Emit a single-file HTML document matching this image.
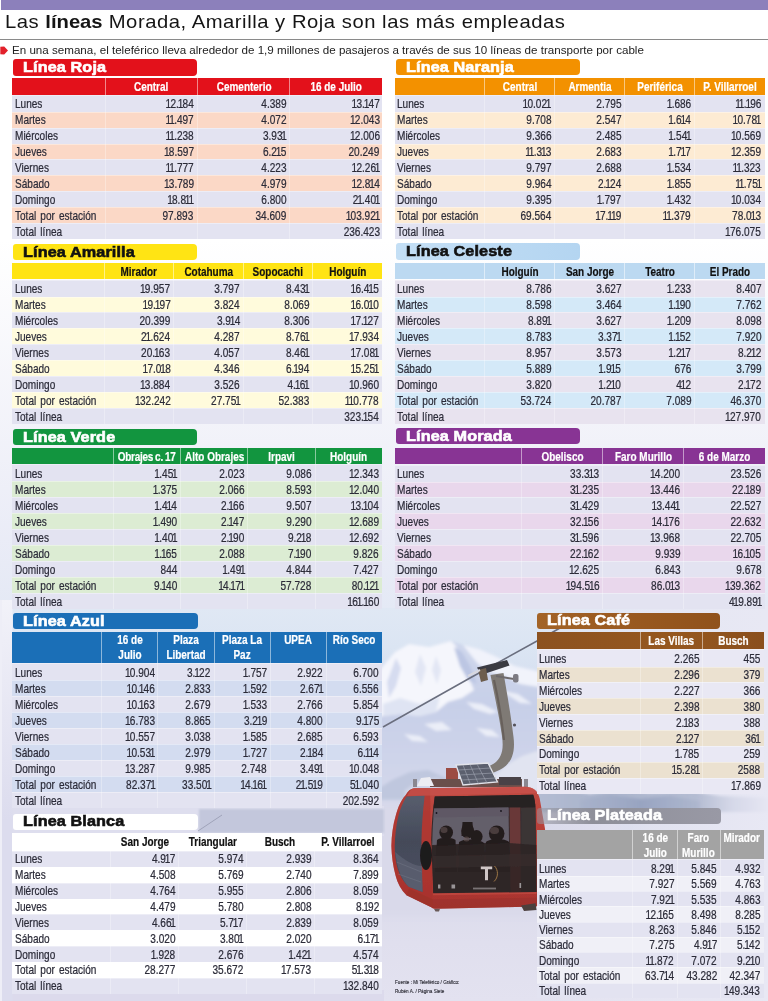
<!DOCTYPE html>
<html lang="es"><head><meta charset="utf-8"><title>Teleférico</title>
<style>
html,body{margin:0;padding:0}
body{width:768px;height:1001px;position:relative;overflow:hidden;background:#fff;font-family:"Liberation Sans",sans-serif;color:#2a2a33}
.abs{position:absolute}
#bar{left:1px;top:0;width:767px;height:10px;background:#8c80bb}
#title{left:5.4px;top:10.2px;font-size:18.4px;line-height:24px;white-space:nowrap;color:#151515;transform-origin:0 0;transform:scaleX(1.1);letter-spacing:0.48px}
#title b{font-weight:bold;letter-spacing:-0.02px}
#rule{left:0;top:38.5px;width:768px;height:1px;background:#8a8a8a}
#sub{left:11.7px;top:44.3px;font-size:10.9px;line-height:13px;white-space:nowrap;color:#222;transform-origin:0 0;transform:scaleX(1.065)}
#photo{left:0;top:240px;width:768px;height:761px}
.tt{position:absolute;border-radius:3px 4px 4px 3px;box-sizing:border-box}
.tt span{position:absolute;left:10.2px;top:-1.4px;font-weight:bold;font-size:15.1px;line-height:17px;white-space:nowrap;transform-origin:0 50%;transform:scaleX(1.075);letter-spacing:0.1px;-webkit-text-stroke:0.6px currentColor}
.hd{position:absolute}
.tt.café{background-image:linear-gradient(90deg,#a36427 0%,#9a5a20 45%,#90521c 100%)}
.hd.café{background-image:linear-gradient(90deg,#8c521f 0%,#96581f 60%,#8a4f1d 100%)}
.tt.plateada{background-image:linear-gradient(90deg,rgba(150,150,162,.5) 0%,#8e8f99 30%,#9999a5 100%);background-color:transparent !important}
.tt.celeste{background-image:linear-gradient(90deg,#c4dff5 0%,#b4d5f1 100%)}
.hc{position:absolute;top:0;height:100%;text-align:center}
.hc span{display:block;margin:0 -15px;font-weight:bold;font-size:12px;line-height:16.3px;white-space:nowrap;transform:scaleX(0.83);position:relative;top:0.5px;-webkit-text-stroke:0.2px currentColor}
.hc.two span{line-height:14.7px;top:1.3px}
.hc u{text-decoration:none;word-spacing:-0.6px;letter-spacing:-0.3px}
.vd{position:absolute;top:0;width:1px;height:100%;background:rgba(255,255,255,.5)}
.vd.b{background:rgba(255,255,255,.3)}
.rw{position:absolute;box-shadow:inset 0 1px 0 rgba(255,255,255,.38)}
.rw span{position:absolute;top:0;margin-top:0.5px;font-size:12.2px;line-height:16.2px;white-space:nowrap;color:#2b2b38;-webkit-text-stroke:0.22px #2b2b38}
.lb{left:2.5px;transform-origin:0 50%;transform:scaleX(0.825);word-spacing:1.6px}
.nm{transform-origin:100% 50%;transform:scaleX(0.826)}
.nm i{font-style:normal;margin:0 -0.9px 0 -1.4px}
#src{left:394.8px;top:978.2px;font-size:6.2px;line-height:8.9px;color:#2a2a33;white-space:nowrap;transform-origin:0 0;transform:scaleX(0.75);-webkit-text-stroke:0.15px #2a2a33}
</style></head>
<body>
<div id="bar" class="abs"></div>
<div id="title" class="abs">Las <b>líneas</b> Morada, Amarilla y Roja son las más empleadas</div>
<div id="rule" class="abs"></div>
<svg class="abs" style="left:0;top:45.5px" width="9" height="9" viewBox="0 0 9 9"><path d="M0.3 0.8 L4.2 0.6 L8 4.4 L4.2 8.4 L0.3 8.2 Z" fill="#e2202a"/></svg>
<div id="sub" class="abs">En una semana, el teleférico lleva alrededor de 1,9 millones de pasajeros a través de sus 10 líneas de transporte por cable</div>
<div id="photo" class="abs"><svg width="768" height="761" viewBox="0 240 768 761">
<defs>
<linearGradient id="fadeT" x1="0" y1="240" x2="0" y2="610" gradientUnits="userSpaceOnUse">
<stop offset="0" stop-color="#eaebf6" stop-opacity="0"/><stop offset="0.5" stop-color="#eaebf6" stop-opacity="0.6"/><stop offset="0.8" stop-color="#e8eaf6" stop-opacity="0.9"/><stop offset="1" stop-color="#e4e9f5" stop-opacity="1"/>
</linearGradient>
<linearGradient id="sky" x1="0" y1="608" x2="0" y2="1001" gradientUnits="userSpaceOnUse">
<stop offset="0" stop-color="#e0e8f4"/><stop offset="0.1" stop-color="#dbe5f3"/><stop offset="0.3" stop-color="#d0d8ec"/><stop offset="0.5" stop-color="#ccd2e8"/><stop offset="0.72" stop-color="#dbdbeb"/><stop offset="0.85" stop-color="#e0dfee"/><stop offset="1" stop-color="#e3e2f0"/>
</linearGradient>
<linearGradient id="fadeR" x1="537" y1="0" x2="768" y2="0" gradientUnits="userSpaceOnUse">
<stop offset="0" stop-color="#e7e7f3" stop-opacity="0"/><stop offset="0.5" stop-color="#e7e7f3" stop-opacity="0.75"/><stop offset="1" stop-color="#e8e8f4" stop-opacity="1"/>
</linearGradient>
<linearGradient id="bandg" x1="530" y1="0" x2="768" y2="0" gradientUnits="userSpaceOnUse"><stop offset="0" stop-color="#b4bdd3"/><stop offset="0.3" stop-color="#a9b3cb"/><stop offset="0.7" stop-color="#b4bcd2"/><stop offset="0.85" stop-color="#d5d8e8"/><stop offset="1" stop-color="#e6e6f3"/></linearGradient>
<linearGradient id="bandg2" x1="580" y1="0" x2="700" y2="0" gradientUnits="userSpaceOnUse"><stop offset="0" stop-color="#a0abc6" stop-opacity="0.3"/><stop offset="0.5" stop-color="#98a4c1"/><stop offset="1" stop-color="#a0abc6" stop-opacity="0.3"/></linearGradient>
<linearGradient id="leftm" x1="0" y1="600" x2="0" y2="820" gradientUnits="userSpaceOnUse">
<stop offset="0" stop-color="#f2f2f9"/><stop offset="1" stop-color="#dcdcee"/>
</linearGradient>
<filter id="b1" x="-10%" y="-10%" width="120%" height="120%"><feGaussianBlur stdDeviation="1"/></filter>
<filter id="b2" x="-10%" y="-10%" width="120%" height="120%"><feGaussianBlur stdDeviation="1.8"/></filter>
<filter id="b4" x="-20%" y="-20%" width="140%" height="140%"><feGaussianBlur stdDeviation="5"/></filter>
<filter id="b07" x="-10%" y="-10%" width="120%" height="120%"><feGaussianBlur stdDeviation="0.7"/></filter>
<filter id="b05" x="-10%" y="-10%" width="120%" height="120%"><feGaussianBlur stdDeviation="0.55"/></filter>
<linearGradient id="redg" x1="0" y1="786" x2="0" y2="910" gradientUnits="userSpaceOnUse">
<stop offset="0" stop-color="#c04a42"/><stop offset="0.5" stop-color="#b53c35"/><stop offset="1" stop-color="#a8342e"/>
</linearGradient>
<linearGradient id="wing" x1="0" y1="795" x2="0" y2="895" gradientUnits="userSpaceOnUse">
<stop offset="0" stop-color="#4d3c3e"/><stop offset="0.35" stop-color="#3b3133"/><stop offset="1" stop-color="#2d2628"/>
</linearGradient>
<linearGradient id="sideg" x1="0" y1="800" x2="0" y2="892" gradientUnits="userSpaceOnUse">
<stop offset="0" stop-color="#565c6c"/><stop offset="0.45" stop-color="#444a59"/><stop offset="1" stop-color="#4b5060"/>
</linearGradient>
</defs>
<rect x="0" y="240" width="768" height="370" fill="url(#fadeT)"/>
<rect x="0" y="608" width="768" height="393" fill="url(#sky)"/>
<!-- mountain -->
<defs><linearGradient id="mbase" x1="0" y1="640" x2="0" y2="830" gradientUnits="userSpaceOnUse">
<stop offset="0" stop-color="#cfd7ec"/><stop offset="0.35" stop-color="#c7cfe8"/><stop offset="0.7" stop-color="#d0d5ea"/><stop offset="1" stop-color="#d9daeb"/></linearGradient></defs>
<g filter="url(#b2)">
<path d="M366 690 L383 666 L395 652 L409 644 L429 647 L451 641 L463 645 L479 649 L495 656 L515 666 L537 671 L610 692 L610 840 L366 840 Z" fill="url(#mbase)"/>
<path d="M366 690 L383 666 L395 652 L409 644 L429 647 L451 641 L456 646 L462 660 L468 676 L474 690 L462 698 L448 702 L436 712 L420 716 L400 714 L383 716 L366 722 Z" fill="#f5f6fc"/>
<path d="M463 645 L479 649 L495 656 L515 666 L537 671 L560 680 L545 688 L520 684 L505 676 L490 672 L478 664 L470 654 Z" fill="#f1f3fb"/>
<path d="M454 647 L462 652 L470 666 L477 684 L468 680 L460 666 Z" fill="#bcc6e3"/>
<path d="M396 658 L401 668 L396 686 L389 698 L387 682 Z" fill="#d6dcf0"/>
<path d="M420 654 L426 668 L421 686 L415 672 Z M436 656 L441 670 L437 684 L432 670 Z" fill="#e2e6f4"/>
<path d="M383 704 L400 698 L420 704 L440 696 L436 712 L420 716 L400 714 L383 716 Z" fill="#dfe4f3"/>
<path d="M466 702 L482 704 L498 712 L490 714 L474 709 Z M424 724 L442 722 L452 730 L436 731 Z M500 690 L518 694 L532 704 L520 703 Z M404 734 L420 736 L428 742 L412 741 Z M476 728 L492 730 L500 737 L486 736 Z" fill="#eef1fa" opacity="0.9"/>
<path d="M494 776 L508 764 L522 756 L537 751 L560 758 L600 772 L600 800 L494 800 Z" fill="#e1e4f1"/>
<path d="M370 794 L392 780 L410 772 L428 770 L446 778 L452 800 L370 800 Z" fill="#bfc7de"/>
<path d="M405 790 L420 780 L438 778 L450 790 L450 800 L405 800 Z" fill="#d4d8ea" opacity="0.8"/>
</g>
<rect x="370" y="806" width="250" height="110" fill="#d9d9ea" filter="url(#b4)"/>
<!-- distant band right -->
<rect x="537" y="606" width="231" height="395" fill="url(#fadeR)"/>
<path d="M530 792 L560 789 L590 794 L620 790 L650 793 L690 791 L720 796 L768 798 L768 812 L530 812 Z" fill="url(#bandg)" filter="url(#b2)"/>
<path d="M580 800 L610 795 L640 799 L670 796 L700 801 L700 812 L580 812 Z" fill="url(#bandg2)" filter="url(#b2)"/>
<!-- left side, behind tables -->
<rect x="0" y="806" width="384" height="30" fill="#dedeee"/>
<path d="M199 809 L384 809 L384 833 L199 833 Z" fill="#c3c7dc" filter="url(#b1)"/>
<path d="M198 831 L222 815" stroke="#9599b0" stroke-width="0.8" fill="none"/>
<rect x="0" y="990" width="384" height="11" fill="#dcdaec"/>
<rect x="0" y="600" width="12.5" height="401" fill="url(#leftm)"/>
<rect x="0" y="600" width="2" height="401" fill="#eeeef7"/>
<!-- cable -->
<path d="M383 727 L470 678 L537 641 L560 628" stroke="#6a6e7e" stroke-width="1.5" fill="none" filter="url(#b05)"/>
<!-- hanger -->
<g filter="url(#b05)">
<path d="M490.5 675 C495 698 499.5 718 502 736 C504 750 501.5 758 494 763.5 L488.5 766.5 L491.5 773.5 L499.5 770 C511.5 764 515.5 753 513.5 737 C511 716 507.5 696 503.5 673 Z" fill="#7f7a75"/>
<path d="M494 680 C499 702 502 722 504 740" stroke="#625b55" stroke-width="2.2" fill="none" opacity="0.8"/>
<path d="M477 667.5 L507 660 L509.5 665.5 L481 675 Z" fill="#3b3a42"/>
<path d="M478 670 L486 668 L488 680 L481 682 Z" fill="#6d5d4d"/>
<path d="M468 676 L480 670" stroke="#d8d8e0" stroke-width="2"/>
<path d="M496 676 L514 679" stroke="#6e6a6c" stroke-width="2"/>
<rect x="513" y="674" width="5.5" height="8.5" rx="2" fill="#7b7a82"/>
<circle cx="514.5" cy="725" r="1.6" fill="#55525a"/>
</g>
<!-- roof gear -->
<g filter="url(#b05)">
<rect x="446" y="768" width="12" height="18" fill="#9c4c42"/>
<rect x="430" y="779" width="92" height="8" fill="#6a4f4c"/>
<path d="M456 765 L488 763 L497.5 782 L463 785 Z" fill="#5b606e"/>
<path d="M456 765 L488 763 L497.5 782 L463 785 Z" fill="none" stroke="#e2e3ea" stroke-width="1.3"/>
<path d="M463 765 L470.5 784.5 M470 764.5 L478.5 784 M477 764 L487 783 M458.5 770 L491 768 M460.5 775 L493.5 773 M462 780 L496 778" stroke="#a8acb9" stroke-width="0.55"/>
<rect x="499" y="777" width="22" height="8" fill="#4a4246"/>
<rect x="413" y="779" width="4" height="8" fill="#8a8790"/><rect x="524" y="779" width="4" height="8" fill="#8a8790"/>
<path d="M417 786 L421 778 L430 777 L434 786 Z" fill="#ececf2"/>
</g>
<!-- cabin -->
<g filter="url(#b07)">
<path d="M414 788.3 L524.6 786.8 C533 786.8 538 791 539.7 798.6 L545 828.7 C546 840 546 850 545.7 860.9 C545.5 875 544.5 886 542.9 895.3 C542 901 541 903 539.7 903.9 C538.5 905.5 537 906.3 535.4 906.5 L436.6 908.8 C434 908.8 432.5 908.3 431.2 907.3 L406.5 895.3 C401 890 397.5 883 395.7 876 C393 866 391.6 856 391.4 845.9 C391.6 835 393 825 395.7 815.8 C398 807 401 800 405.4 795.4 C408 791 410.5 788.8 414 788.3 Z" fill="url(#redg)"/>
<!-- side shading -->
<path d="M414 788.3 L430 788 L432.5 907.5 L406.5 895.3 C401 890 397.5 883 395.7 876 C393 866 391.6 856 391.4 845.9 C391.6 835 393 825 395.7 815.8 C398 807 401 800 405.4 795.4 C408 791 410.5 788.8 414 788.3 Z" fill="#a8322c" opacity="0.55"/>
<!-- side window -->
<path d="M406.5 796.5 L424.7 795.4 C423 810 421.8 825 421.5 839.4 C421.4 857 421.8 875 422.6 892.1 L408.6 886.7 C403.5 882 400 876 397.9 869.5 C395.6 862 394.7 854 394.7 845.9 C395 836 396 827 397.9 818 C400 809 403 802 406.5 796.5 Z" fill="url(#sideg)"/>
<path d="M395.2 852 C396 858 397.5 866 399.5 872 C402 878 405 883 408.6 886.7 L422.6 892.1 L422 866 C414 866 404 860 395.2 852 Z" fill="#5d6273" opacity="0.75"/>
<path d="M398 874 L421 882 M396.5 862 L421.5 872" stroke="#787d8d" stroke-width="0.7" opacity="0.6"/>
<!-- front window -->
<path d="M434.8 796.5 L533.2 794.8 C534.6 799 535.2 803 535.4 807.2 L536.5 892.1 L433.3 893.2 L431.2 839.4 C431.5 825 432.6 810 434.8 796.5 Z" fill="#352b2c"/>
<path d="M434.8 796.5 L533.2 794.8 C534.6 799 535.2 803 535.4 807.2 L433.5 808.4 Z" fill="#272023"/>
<!-- see-through sky zone -->
<path d="M434.2 808.6 L508.5 807.6 L509 842 L432.2 845 C432.4 832 433 820 434.2 808.6 Z" fill="#645e6a"/>
<path d="M434.2 808.6 L508.5 807.6 L508.6 816 L433.6 817.5 Z" fill="#5d5864" opacity="0.8"/>
<!-- right pillar & far window -->
<path d="M509.6 807.6 L520.3 807.4 L521 892.3 L510.4 892.4 Z" fill="#7b3e3c" opacity="0.75"/>
<path d="M521 808 L535.4 807.6 L536.3 880 L521.6 880 Z" fill="#3a3436"/>
<!-- people -->
<g fill="#241c1d">
<ellipse cx="446.2" cy="832.5" rx="6.8" ry="7"/><path d="M437 840 C440 837 452 837 455.5 840 L457 872 L435 872 Z"/>
<path d="M462.5 822 L472.5 822 L473.5 836 L461.5 836 Z"/><ellipse cx="467.7" cy="831" rx="6.5" ry="7.5"/>
<ellipse cx="476.6" cy="836.5" rx="6" ry="6.5"/><path d="M459 842 C464 838 480 839 484 843 L485 872 L458 872 Z"/>
<ellipse cx="496.7" cy="833.5" rx="7.8" ry="8"/><path d="M486 842 C490 838 505 838 509 842 L510 872 L485 872 Z"/>
</g>
<g fill="#6a5a58" opacity="0.55">
<ellipse cx="444" cy="830" rx="3.5" ry="3"/><ellipse cx="494.5" cy="830.5" rx="4.5" ry="3.5"/><ellipse cx="466.5" cy="839" rx="3" ry="2.5"/>
</g>
<path d="M432.2 846 L509 843 L536.4 845 L536.5 892.1 L433.3 893.2 Z" fill="#2c2425" opacity="0.82"/>
<path d="M433 856 L536.4 854 L536.4 866 L433.2 868 Z" fill="#3a2f2f" opacity="0.6"/>
<!-- handle -->
<ellipse cx="426" cy="855.5" rx="6" ry="14.5" fill="#1e1a1d"/>
<!-- T logo -->
<path d="M480.8 866.5 L492.2 866.5 L492.2 869.3 L488 869.3 L488 880.3 L485 880.3 L485 869.3 L480.8 869.3 Z" fill="#cfc6c6"/>
<path d="M494.5 866 C498.5 870 498.5 877.5 494 881.5" stroke="#a98048" stroke-width="0.9" fill="none"/>
<rect x="473" y="887.6" width="23" height="1.8" fill="#8d8788" opacity="0.8"/>
<rect x="438" y="884.5" width="2.4" height="4" fill="#9a9597"/><rect x="451.5" y="884.5" width="3.6" height="4" fill="#9a9597"/><rect x="519.5" y="883" width="1.6" height="5" fill="#9a9597"/>
<circle cx="436.5" cy="813" r="0.9" fill="#15131a"/><circle cx="501" cy="811" r="0.9" fill="#15131a"/>
<!-- bottom shade -->
<path d="M406.5 895.3 L431.2 907.3 C432.5 908.3 434 908.8 436.6 908.8 L535.4 906.5 C538 906 540 904.5 541.5 902 L542.5 897.5 L432.8 899.5 L409 888.5 Z" fill="#98302b" opacity="0.55"/>
<path d="M433 893.2 L536.5 892.1 L536.5 894 L433 895.2 Z" fill="#d0524a" opacity="0.5"/>
<path d="M521 905.5 L535.5 903.2 L536.5 910 L524 911 Z" fill="#4c3f3e"/>
<path d="M434 908.9 L440 908.8 L439 911.5 L435.5 911.5 Z" fill="#6b5a58"/>
<!-- roof highlight -->
<path d="M414 788.3 L524.6 786.8 C531 786.8 535 789 537.5 793 L432 795.5 L407 796 C409 791.5 411 789 414 788.3 Z" fill="#c9534b" opacity="0.7"/>
</g>
</svg>
</div>
<div class="tt roja" style="left:12.5px;top:59.4px;width:184.5px;height:16.2px;background-color:#e3111b;color:#fff"><span style="margin-top:0px">Línea Roja</span></div>
<div class="hd roja" style="left:12.3px;top:78.3px;width:370px;height:16.3px;background-color:#e3111b;color:#fff">
<div class="hc" style="left:93px;width:92.3px"><span style="line-height:16.3px">Central</span></div>
<div class="hc" style="left:185.3px;width:92.4px"><span style="line-height:16.3px">Cementerio</span></div>
<div class="hc" style="left:277.7px;width:92.3px"><span style="line-height:16.3px">16 de Julio</span></div>
<i class="vd" style="left:92.5px"></i>
<i class="vd" style="left:184.8px"></i>
<i class="vd" style="left:277.2px"></i>
</div>
<div class="rw" style="left:12.3px;top:94.6px;width:370px;height:17.04px;background:#e3e3f1">
<span class="lb" style="top:1.1px">Lunes</span>
<span class="nm" style="right:188.7px;top:1.1px"><i>1</i>2.<i>1</i>84</span>
<span class="nm" style="right:95.6px;top:1.1px">4.389</span>
<span class="nm" style="right:2.7px;top:1.1px"><i>1</i>3.<i>1</i>47</span>
<i class="vd b" style="left:92.5px"></i>
<i class="vd b" style="left:184.8px"></i>
<i class="vd b" style="left:277.2px"></i>
</div>
<div class="rw" style="left:12.3px;top:111.64px;width:370px;height:15.94px;background:#fbd8c6">
<span class="lb">Martes</span>
<span class="nm" style="right:188.7px"><i>1</i><i>1</i>.497</span>
<span class="nm" style="right:95.6px">4.072</span>
<span class="nm" style="right:2.7px"><i>1</i>2.043</span>
<i class="vd b" style="left:92.5px"></i>
<i class="vd b" style="left:184.8px"></i>
<i class="vd b" style="left:277.2px"></i>
</div>
<div class="rw" style="left:12.3px;top:127.58px;width:370px;height:15.94px;background:#e3e3f1">
<span class="lb">Miércoles</span>
<span class="nm" style="right:188.7px"><i>1</i><i>1</i>.238</span>
<span class="nm" style="right:95.6px">3.93<i>1</i></span>
<span class="nm" style="right:2.7px"><i>1</i>2.006</span>
<i class="vd b" style="left:92.5px"></i>
<i class="vd b" style="left:184.8px"></i>
<i class="vd b" style="left:277.2px"></i>
</div>
<div class="rw" style="left:12.3px;top:143.52px;width:370px;height:15.94px;background:#fbd8c6">
<span class="lb">Jueves</span>
<span class="nm" style="right:188.7px"><i>1</i>8.597</span>
<span class="nm" style="right:95.6px">6.2<i>1</i>5</span>
<span class="nm" style="right:2.7px">20.249</span>
<i class="vd b" style="left:92.5px"></i>
<i class="vd b" style="left:184.8px"></i>
<i class="vd b" style="left:277.2px"></i>
</div>
<div class="rw" style="left:12.3px;top:159.46px;width:370px;height:15.94px;background:#e3e3f1">
<span class="lb">Viernes</span>
<span class="nm" style="right:188.7px"><i>1</i><i>1</i>.777</span>
<span class="nm" style="right:95.6px">4.223</span>
<span class="nm" style="right:2.7px"><i>1</i>2.26<i>1</i></span>
<i class="vd b" style="left:92.5px"></i>
<i class="vd b" style="left:184.8px"></i>
<i class="vd b" style="left:277.2px"></i>
</div>
<div class="rw" style="left:12.3px;top:175.4px;width:370px;height:15.94px;background:#fbd8c6">
<span class="lb">Sábado</span>
<span class="nm" style="right:188.7px"><i>1</i>3.789</span>
<span class="nm" style="right:95.6px">4.979</span>
<span class="nm" style="right:2.7px"><i>1</i>2.8<i>1</i>4</span>
<i class="vd b" style="left:92.5px"></i>
<i class="vd b" style="left:184.8px"></i>
<i class="vd b" style="left:277.2px"></i>
</div>
<div class="rw" style="left:12.3px;top:191.34px;width:370px;height:15.94px;background:#e3e3f1">
<span class="lb">Domingo</span>
<span class="nm" style="right:188.7px"><i>1</i>8.8<i>1</i><i>1</i></span>
<span class="nm" style="right:95.6px">6.800</span>
<span class="nm" style="right:2.7px">2<i>1</i>.40<i>1</i></span>
<i class="vd b" style="left:92.5px"></i>
<i class="vd b" style="left:184.8px"></i>
<i class="vd b" style="left:277.2px"></i>
</div>
<div class="rw" style="left:12.3px;top:207.28px;width:370px;height:15.94px;background:#fbd8c6">
<span class="lb">Total por estación</span>
<span class="nm" style="right:188.7px">97.893</span>
<span class="nm" style="right:95.6px">34.609</span>
<span class="nm" style="right:2.7px"><i>1</i>03.92<i>1</i></span>
<i class="vd b" style="left:92.5px"></i>
<i class="vd b" style="left:184.8px"></i>
<i class="vd b" style="left:277.2px"></i>
</div>
<div class="rw" style="left:12.3px;top:223.22px;width:370px;height:15.94px;background:#e3e3f1">
<span class="lb">Total línea</span>
<span class="nm" style="right:2.7px">236.423</span>
<i class="vd b" style="left:92.5px"></i>
<i class="vd b" style="left:184.8px"></i>
<i class="vd b" style="left:277.2px"></i>
</div>
<div class="tt amarilla" style="left:12.5px;top:244.3px;width:184.5px;height:16.2px;background-color:#ffe414;color:#111"><span style="margin-top:0px">Línea Amarilla</span></div>
<div class="hd amarilla" style="left:12.3px;top:263.2px;width:370px;height:16.3px;background-color:#ffe414;color:#111">
<div class="hc" style="left:92px;width:69.5px"><span style="line-height:16.3px">Mirador</span></div>
<div class="hc" style="left:161.5px;width:69.5px"><span style="line-height:16.3px">Cotahuma</span></div>
<div class="hc" style="left:231px;width:69.5px"><span style="line-height:16.3px">Sopocachi</span></div>
<div class="hc" style="left:300.5px;width:69.5px"><span style="line-height:16.3px">Holguín</span></div>
<i class="vd" style="left:91.5px"></i>
<i class="vd" style="left:161px"></i>
<i class="vd" style="left:230.5px"></i>
<i class="vd" style="left:300px"></i>
</div>
<div class="rw" style="left:12.3px;top:279.5px;width:370px;height:17.04px;background:#e3e3f1">
<span class="lb" style="top:1.1px">Lunes</span>
<span class="nm" style="right:211.9px;top:1.1px"><i>1</i>9.957</span>
<span class="nm" style="right:142.4px;top:1.1px">3.797</span>
<span class="nm" style="right:72.9px;top:1.1px">8.43<i>1</i></span>
<span class="nm" style="right:3.4px;top:1.1px"><i>1</i>6.4<i>1</i>5</span>
<i class="vd b" style="left:91.5px"></i>
<i class="vd b" style="left:161px"></i>
<i class="vd b" style="left:230.5px"></i>
<i class="vd b" style="left:300px"></i>
</div>
<div class="rw" style="left:12.3px;top:296.54px;width:370px;height:15.94px;background:#fffbdc">
<span class="lb">Martes</span>
<span class="nm" style="right:211.9px"><i>1</i>9.<i>1</i>97</span>
<span class="nm" style="right:142.4px">3.824</span>
<span class="nm" style="right:72.9px">8.069</span>
<span class="nm" style="right:3.4px"><i>1</i>6.0<i>1</i>0</span>
<i class="vd b" style="left:91.5px"></i>
<i class="vd b" style="left:161px"></i>
<i class="vd b" style="left:230.5px"></i>
<i class="vd b" style="left:300px"></i>
</div>
<div class="rw" style="left:12.3px;top:312.48px;width:370px;height:15.94px;background:#e3e3f1">
<span class="lb">Miércoles</span>
<span class="nm" style="right:211.9px">20.399</span>
<span class="nm" style="right:142.4px">3.9<i>1</i>4</span>
<span class="nm" style="right:72.9px">8.306</span>
<span class="nm" style="right:3.4px"><i>1</i>7.<i>1</i>27</span>
<i class="vd b" style="left:91.5px"></i>
<i class="vd b" style="left:161px"></i>
<i class="vd b" style="left:230.5px"></i>
<i class="vd b" style="left:300px"></i>
</div>
<div class="rw" style="left:12.3px;top:328.42px;width:370px;height:15.94px;background:#fffbdc">
<span class="lb">Jueves</span>
<span class="nm" style="right:211.9px">2<i>1</i>.624</span>
<span class="nm" style="right:142.4px">4.287</span>
<span class="nm" style="right:72.9px">8.76<i>1</i></span>
<span class="nm" style="right:3.4px"><i>1</i>7.934</span>
<i class="vd b" style="left:91.5px"></i>
<i class="vd b" style="left:161px"></i>
<i class="vd b" style="left:230.5px"></i>
<i class="vd b" style="left:300px"></i>
</div>
<div class="rw" style="left:12.3px;top:344.36px;width:370px;height:15.94px;background:#e3e3f1">
<span class="lb">Viernes</span>
<span class="nm" style="right:211.9px">20.<i>1</i>63</span>
<span class="nm" style="right:142.4px">4.057</span>
<span class="nm" style="right:72.9px">8.46<i>1</i></span>
<span class="nm" style="right:3.4px"><i>1</i>7.08<i>1</i></span>
<i class="vd b" style="left:91.5px"></i>
<i class="vd b" style="left:161px"></i>
<i class="vd b" style="left:230.5px"></i>
<i class="vd b" style="left:300px"></i>
</div>
<div class="rw" style="left:12.3px;top:360.3px;width:370px;height:15.94px;background:#fffbdc">
<span class="lb">Sábado</span>
<span class="nm" style="right:211.9px"><i>1</i>7.0<i>1</i>8</span>
<span class="nm" style="right:142.4px">4.346</span>
<span class="nm" style="right:72.9px">6.<i>1</i>94</span>
<span class="nm" style="right:3.4px"><i>1</i>5.25<i>1</i></span>
<i class="vd b" style="left:91.5px"></i>
<i class="vd b" style="left:161px"></i>
<i class="vd b" style="left:230.5px"></i>
<i class="vd b" style="left:300px"></i>
</div>
<div class="rw" style="left:12.3px;top:376.24px;width:370px;height:15.94px;background:#e3e3f1">
<span class="lb">Domingo</span>
<span class="nm" style="right:211.9px"><i>1</i>3.884</span>
<span class="nm" style="right:142.4px">3.526</span>
<span class="nm" style="right:72.9px">4.<i>1</i>6<i>1</i></span>
<span class="nm" style="right:3.4px"><i>1</i>0.960</span>
<i class="vd b" style="left:91.5px"></i>
<i class="vd b" style="left:161px"></i>
<i class="vd b" style="left:230.5px"></i>
<i class="vd b" style="left:300px"></i>
</div>
<div class="rw" style="left:12.3px;top:392.18px;width:370px;height:15.94px;background:#fffbdc">
<span class="lb">Total por estación</span>
<span class="nm" style="right:211.9px"><i>1</i>32.242</span>
<span class="nm" style="right:142.4px">27.75<i>1</i></span>
<span class="nm" style="right:72.9px">52.383</span>
<span class="nm" style="right:3.4px"><i>1</i><i>1</i>0.778</span>
<i class="vd b" style="left:91.5px"></i>
<i class="vd b" style="left:161px"></i>
<i class="vd b" style="left:230.5px"></i>
<i class="vd b" style="left:300px"></i>
</div>
<div class="rw" style="left:12.3px;top:408.12px;width:370px;height:15.94px;background:#e3e3f1">
<span class="lb">Total línea</span>
<span class="nm" style="right:3.4px">323.<i>1</i>54</span>
<i class="vd b" style="left:91.5px"></i>
<i class="vd b" style="left:161px"></i>
<i class="vd b" style="left:230.5px"></i>
<i class="vd b" style="left:300px"></i>
</div>
<div class="tt verde" style="left:12.5px;top:428.9px;width:184.5px;height:16.2px;background-color:#12953f;color:#fff"><span style="margin-top:0px">Línea Verde</span></div>
<div class="hd verde" style="left:12.3px;top:448.1px;width:370px;height:16.3px;background-color:#12953f;color:#fff">
<div class="hc" style="left:101.1px;width:67.3px"><span style="line-height:16.3px"><u>Obrajes c. 17</u></span></div>
<div class="hc" style="left:168.4px;width:67.3px"><span style="line-height:16.3px">Alto Obrajes</span></div>
<div class="hc" style="left:235.7px;width:67.1px"><span style="line-height:16.3px">Irpavi</span></div>
<div class="hc" style="left:302.8px;width:67.2px"><span style="line-height:16.3px">Holguín</span></div>
<i class="vd" style="left:100.6px"></i>
<i class="vd" style="left:167.9px"></i>
<i class="vd" style="left:235.2px"></i>
<i class="vd" style="left:302.3px"></i>
</div>
<div class="rw" style="left:12.3px;top:464.4px;width:370px;height:17.04px;background:#e3e3f1">
<span class="lb" style="top:1.1px">Lunes</span>
<span class="nm" style="right:205px;top:1.1px"><i>1</i>.45<i>1</i></span>
<span class="nm" style="right:137.7px;top:1.1px">2.023</span>
<span class="nm" style="right:70.6px;top:1.1px">9.086</span>
<span class="nm" style="right:3.4px;top:1.1px"><i>1</i>2.343</span>
<i class="vd b" style="left:100.6px"></i>
<i class="vd b" style="left:167.9px"></i>
<i class="vd b" style="left:235.2px"></i>
<i class="vd b" style="left:302.3px"></i>
</div>
<div class="rw" style="left:12.3px;top:481.44px;width:370px;height:15.94px;background:#dcecd3">
<span class="lb">Martes</span>
<span class="nm" style="right:205px"><i>1</i>.375</span>
<span class="nm" style="right:137.7px">2.066</span>
<span class="nm" style="right:70.6px">8.593</span>
<span class="nm" style="right:3.4px"><i>1</i>2.040</span>
<i class="vd b" style="left:100.6px"></i>
<i class="vd b" style="left:167.9px"></i>
<i class="vd b" style="left:235.2px"></i>
<i class="vd b" style="left:302.3px"></i>
</div>
<div class="rw" style="left:12.3px;top:497.38px;width:370px;height:15.94px;background:#e3e3f1">
<span class="lb">Miércoles</span>
<span class="nm" style="right:205px"><i>1</i>.4<i>1</i>4</span>
<span class="nm" style="right:137.7px">2.<i>1</i>66</span>
<span class="nm" style="right:70.6px">9.507</span>
<span class="nm" style="right:3.4px"><i>1</i>3.<i>1</i>04</span>
<i class="vd b" style="left:100.6px"></i>
<i class="vd b" style="left:167.9px"></i>
<i class="vd b" style="left:235.2px"></i>
<i class="vd b" style="left:302.3px"></i>
</div>
<div class="rw" style="left:12.3px;top:513.32px;width:370px;height:15.94px;background:#dcecd3">
<span class="lb">Jueves</span>
<span class="nm" style="right:205px"><i>1</i>.490</span>
<span class="nm" style="right:137.7px">2.<i>1</i>47</span>
<span class="nm" style="right:70.6px">9.290</span>
<span class="nm" style="right:3.4px"><i>1</i>2.689</span>
<i class="vd b" style="left:100.6px"></i>
<i class="vd b" style="left:167.9px"></i>
<i class="vd b" style="left:235.2px"></i>
<i class="vd b" style="left:302.3px"></i>
</div>
<div class="rw" style="left:12.3px;top:529.26px;width:370px;height:15.94px;background:#e3e3f1">
<span class="lb">Viernes</span>
<span class="nm" style="right:205px"><i>1</i>.40<i>1</i></span>
<span class="nm" style="right:137.7px">2.<i>1</i>90</span>
<span class="nm" style="right:70.6px">9.2<i>1</i>8</span>
<span class="nm" style="right:3.4px"><i>1</i>2.692</span>
<i class="vd b" style="left:100.6px"></i>
<i class="vd b" style="left:167.9px"></i>
<i class="vd b" style="left:235.2px"></i>
<i class="vd b" style="left:302.3px"></i>
</div>
<div class="rw" style="left:12.3px;top:545.2px;width:370px;height:15.94px;background:#dcecd3">
<span class="lb">Sábado</span>
<span class="nm" style="right:205px"><i>1</i>.<i>1</i>65</span>
<span class="nm" style="right:137.7px">2.088</span>
<span class="nm" style="right:70.6px">7.<i>1</i>90</span>
<span class="nm" style="right:3.4px">9.826</span>
<i class="vd b" style="left:100.6px"></i>
<i class="vd b" style="left:167.9px"></i>
<i class="vd b" style="left:235.2px"></i>
<i class="vd b" style="left:302.3px"></i>
</div>
<div class="rw" style="left:12.3px;top:561.14px;width:370px;height:15.94px;background:#e3e3f1">
<span class="lb">Domingo</span>
<span class="nm" style="right:205px">844</span>
<span class="nm" style="right:137.7px"><i>1</i>.49<i>1</i></span>
<span class="nm" style="right:70.6px">4.844</span>
<span class="nm" style="right:3.4px">7.427</span>
<i class="vd b" style="left:100.6px"></i>
<i class="vd b" style="left:167.9px"></i>
<i class="vd b" style="left:235.2px"></i>
<i class="vd b" style="left:302.3px"></i>
</div>
<div class="rw" style="left:12.3px;top:577.08px;width:370px;height:15.94px;background:#dcecd3">
<span class="lb">Total por estación</span>
<span class="nm" style="right:205px">9.<i>1</i>40</span>
<span class="nm" style="right:137.7px"><i>1</i>4.<i>1</i>7<i>1</i></span>
<span class="nm" style="right:70.6px">57.728</span>
<span class="nm" style="right:3.4px">80.<i>1</i>2<i>1</i></span>
<i class="vd b" style="left:100.6px"></i>
<i class="vd b" style="left:167.9px"></i>
<i class="vd b" style="left:235.2px"></i>
<i class="vd b" style="left:302.3px"></i>
</div>
<div class="rw" style="left:12.3px;top:593.02px;width:370px;height:15.94px;background:#e3e3f1">
<span class="lb">Total línea</span>
<span class="nm" style="right:3.4px"><i>1</i>6<i>1</i>.<i>1</i>60</span>
<i class="vd b" style="left:100.6px"></i>
<i class="vd b" style="left:167.9px"></i>
<i class="vd b" style="left:235.2px"></i>
<i class="vd b" style="left:302.3px"></i>
</div>
<div class="tt azul" style="left:12.5px;top:612.9px;width:185px;height:16.2px;background-color:#1b6fb7;color:#fff"><span style="margin-top:0px">Línea Azul</span></div>
<div class="hd azul" style="left:12.3px;top:632.2px;width:370px;height:31.2px;background-color:#1b6fb7;color:#fff">
<div class="hc two" style="left:89.7px;width:56px"><span>16 de<br>Julio</span></div>
<div class="hc two" style="left:145.7px;width:56.1px"><span>Plaza<br>Libertad</span></div>
<div class="hc two" style="left:201.8px;width:56.1px"><span>Plaza La<br>Paz</span></div>
<div class="hc two" style="left:257.9px;width:56px"><span>UPEA</span></div>
<div class="hc two" style="left:313.9px;width:56.1px"><span>Río Seco</span></div>
<i class="vd" style="left:89.2px"></i>
<i class="vd" style="left:145.2px"></i>
<i class="vd" style="left:201.3px"></i>
<i class="vd" style="left:257.4px"></i>
<i class="vd" style="left:313.4px"></i>
</div>
<div class="rw" style="left:12.3px;top:663.4px;width:370px;height:17.04px;background:#e3e3f1">
<span class="lb" style="top:1.1px">Lunes</span>
<span class="nm" style="right:227.7px;top:1.1px"><i>1</i>0.904</span>
<span class="nm" style="right:171.6px;top:1.1px">3.<i>1</i>22</span>
<span class="nm" style="right:115.5px;top:1.1px"><i>1</i>.757</span>
<span class="nm" style="right:59.5px;top:1.1px">2.922</span>
<span class="nm" style="right:3.4px;top:1.1px">6.700</span>
<i class="vd b" style="left:89.2px"></i>
<i class="vd b" style="left:145.2px"></i>
<i class="vd b" style="left:201.3px"></i>
<i class="vd b" style="left:257.4px"></i>
<i class="vd b" style="left:313.4px"></i>
</div>
<div class="rw" style="left:12.3px;top:680.44px;width:370px;height:15.94px;background:#d3dcf0">
<span class="lb">Martes</span>
<span class="nm" style="right:227.7px"><i>1</i>0.<i>1</i>46</span>
<span class="nm" style="right:171.6px">2.833</span>
<span class="nm" style="right:115.5px"><i>1</i>.592</span>
<span class="nm" style="right:59.5px">2.67<i>1</i></span>
<span class="nm" style="right:3.4px">6.556</span>
<i class="vd b" style="left:89.2px"></i>
<i class="vd b" style="left:145.2px"></i>
<i class="vd b" style="left:201.3px"></i>
<i class="vd b" style="left:257.4px"></i>
<i class="vd b" style="left:313.4px"></i>
</div>
<div class="rw" style="left:12.3px;top:696.38px;width:370px;height:15.94px;background:#e3e3f1">
<span class="lb">Miércoles</span>
<span class="nm" style="right:227.7px"><i>1</i>0.<i>1</i>63</span>
<span class="nm" style="right:171.6px">2.679</span>
<span class="nm" style="right:115.5px"><i>1</i>.533</span>
<span class="nm" style="right:59.5px">2.766</span>
<span class="nm" style="right:3.4px">5.854</span>
<i class="vd b" style="left:89.2px"></i>
<i class="vd b" style="left:145.2px"></i>
<i class="vd b" style="left:201.3px"></i>
<i class="vd b" style="left:257.4px"></i>
<i class="vd b" style="left:313.4px"></i>
</div>
<div class="rw" style="left:12.3px;top:712.32px;width:370px;height:15.94px;background:#d3dcf0">
<span class="lb">Jueves</span>
<span class="nm" style="right:227.7px"><i>1</i>6.783</span>
<span class="nm" style="right:171.6px">8.865</span>
<span class="nm" style="right:115.5px">3.2<i>1</i>9</span>
<span class="nm" style="right:59.5px">4.800</span>
<span class="nm" style="right:3.4px">9.<i>1</i>75</span>
<i class="vd b" style="left:89.2px"></i>
<i class="vd b" style="left:145.2px"></i>
<i class="vd b" style="left:201.3px"></i>
<i class="vd b" style="left:257.4px"></i>
<i class="vd b" style="left:313.4px"></i>
</div>
<div class="rw" style="left:12.3px;top:728.26px;width:370px;height:15.94px;background:#e3e3f1">
<span class="lb">Viernes</span>
<span class="nm" style="right:227.7px"><i>1</i>0.557</span>
<span class="nm" style="right:171.6px">3.038</span>
<span class="nm" style="right:115.5px"><i>1</i>.585</span>
<span class="nm" style="right:59.5px">2.685</span>
<span class="nm" style="right:3.4px">6.593</span>
<i class="vd b" style="left:89.2px"></i>
<i class="vd b" style="left:145.2px"></i>
<i class="vd b" style="left:201.3px"></i>
<i class="vd b" style="left:257.4px"></i>
<i class="vd b" style="left:313.4px"></i>
</div>
<div class="rw" style="left:12.3px;top:744.2px;width:370px;height:15.94px;background:#d3dcf0">
<span class="lb">Sábado</span>
<span class="nm" style="right:227.7px"><i>1</i>0.53<i>1</i></span>
<span class="nm" style="right:171.6px">2.979</span>
<span class="nm" style="right:115.5px"><i>1</i>.727</span>
<span class="nm" style="right:59.5px">2.<i>1</i>84</span>
<span class="nm" style="right:3.4px">6.<i>1</i><i>1</i>4</span>
<i class="vd b" style="left:89.2px"></i>
<i class="vd b" style="left:145.2px"></i>
<i class="vd b" style="left:201.3px"></i>
<i class="vd b" style="left:257.4px"></i>
<i class="vd b" style="left:313.4px"></i>
</div>
<div class="rw" style="left:12.3px;top:760.14px;width:370px;height:15.94px;background:#e3e3f1">
<span class="lb">Domingo</span>
<span class="nm" style="right:227.7px"><i>1</i>3.287</span>
<span class="nm" style="right:171.6px">9.985</span>
<span class="nm" style="right:115.5px">2.748</span>
<span class="nm" style="right:59.5px">3.49<i>1</i></span>
<span class="nm" style="right:3.4px"><i>1</i>0.048</span>
<i class="vd b" style="left:89.2px"></i>
<i class="vd b" style="left:145.2px"></i>
<i class="vd b" style="left:201.3px"></i>
<i class="vd b" style="left:257.4px"></i>
<i class="vd b" style="left:313.4px"></i>
</div>
<div class="rw" style="left:12.3px;top:776.08px;width:370px;height:15.94px;background:#d3dcf0">
<span class="lb">Total por estación</span>
<span class="nm" style="right:227.7px">82.37<i>1</i></span>
<span class="nm" style="right:171.6px">33.50<i>1</i></span>
<span class="nm" style="right:115.5px"><i>1</i>4.<i>1</i>6<i>1</i></span>
<span class="nm" style="right:59.5px">2<i>1</i>.5<i>1</i>9</span>
<span class="nm" style="right:3.4px">5<i>1</i>.040</span>
<i class="vd b" style="left:89.2px"></i>
<i class="vd b" style="left:145.2px"></i>
<i class="vd b" style="left:201.3px"></i>
<i class="vd b" style="left:257.4px"></i>
<i class="vd b" style="left:313.4px"></i>
</div>
<div class="rw" style="left:12.3px;top:792.02px;width:370px;height:15.94px;background:#e3e3f1">
<span class="lb">Total línea</span>
<span class="nm" style="right:3.4px">202.592</span>
<i class="vd b" style="left:89.2px"></i>
<i class="vd b" style="left:145.2px"></i>
<i class="vd b" style="left:201.3px"></i>
<i class="vd b" style="left:257.4px"></i>
<i class="vd b" style="left:313.4px"></i>
</div>
<div class="tt blanca" style="left:12.5px;top:813.6px;width:185px;height:16.2px;background-color:#ffffff;color:#111"><span style="margin-top:0px">Línea Blanca</span></div>
<div class="hd blanca" style="left:12.3px;top:833.1px;width:370px;height:17.6px;background-color:#ffffff;color:#111">
<div class="hc" style="left:98.5px;width:67.9px"><span style="line-height:17.6px">San Jorge</span></div>
<div class="hc" style="left:166.4px;width:67.8px"><span style="line-height:17.6px">Triangular</span></div>
<div class="hc" style="left:234.2px;width:67.9px"><span style="line-height:17.6px">Busch</span></div>
<div class="hc" style="left:302.1px;width:67.9px"><span style="line-height:17.6px">P. Villarroel</span></div>
<i class="vd" style="left:98px"></i>
<i class="vd" style="left:165.9px"></i>
<i class="vd" style="left:233.7px"></i>
<i class="vd" style="left:301.6px"></i>
</div>
<div class="rw" style="left:12.3px;top:850.7px;width:370px;height:16.15px;background:#e3e3f1">
<span class="lb" style="top:0.3px">Lunes</span>
<span class="nm" style="right:207px;top:0.3px">4.9<i>1</i>7</span>
<span class="nm" style="right:139.2px;top:0.3px">5.974</span>
<span class="nm" style="right:71.3px;top:0.3px">2.939</span>
<span class="nm" style="right:3.4px;top:0.3px">8.364</span>
<i class="vd b" style="left:98px"></i>
<i class="vd b" style="left:165.9px"></i>
<i class="vd b" style="left:233.7px"></i>
<i class="vd b" style="left:301.6px"></i>
</div>
<div class="rw" style="left:12.3px;top:866.85px;width:370px;height:15.85px;background:#ffffff">
<span class="lb">Martes</span>
<span class="nm" style="right:207px">4.508</span>
<span class="nm" style="right:139.2px">5.769</span>
<span class="nm" style="right:71.3px">2.740</span>
<span class="nm" style="right:3.4px">7.899</span>
<i class="vd b" style="left:98px"></i>
<i class="vd b" style="left:165.9px"></i>
<i class="vd b" style="left:233.7px"></i>
<i class="vd b" style="left:301.6px"></i>
</div>
<div class="rw" style="left:12.3px;top:882.7px;width:370px;height:15.85px;background:#e3e3f1">
<span class="lb">Miércoles</span>
<span class="nm" style="right:207px">4.764</span>
<span class="nm" style="right:139.2px">5.955</span>
<span class="nm" style="right:71.3px">2.806</span>
<span class="nm" style="right:3.4px">8.059</span>
<i class="vd b" style="left:98px"></i>
<i class="vd b" style="left:165.9px"></i>
<i class="vd b" style="left:233.7px"></i>
<i class="vd b" style="left:301.6px"></i>
</div>
<div class="rw" style="left:12.3px;top:898.55px;width:370px;height:15.85px;background:#ffffff">
<span class="lb">Jueves</span>
<span class="nm" style="right:207px">4.479</span>
<span class="nm" style="right:139.2px">5.780</span>
<span class="nm" style="right:71.3px">2.808</span>
<span class="nm" style="right:3.4px">8.<i>1</i>92</span>
<i class="vd b" style="left:98px"></i>
<i class="vd b" style="left:165.9px"></i>
<i class="vd b" style="left:233.7px"></i>
<i class="vd b" style="left:301.6px"></i>
</div>
<div class="rw" style="left:12.3px;top:914.4px;width:370px;height:15.85px;background:#e3e3f1">
<span class="lb">Viernes</span>
<span class="nm" style="right:207px">4.66<i>1</i></span>
<span class="nm" style="right:139.2px">5.7<i>1</i>7</span>
<span class="nm" style="right:71.3px">2.839</span>
<span class="nm" style="right:3.4px">8.059</span>
<i class="vd b" style="left:98px"></i>
<i class="vd b" style="left:165.9px"></i>
<i class="vd b" style="left:233.7px"></i>
<i class="vd b" style="left:301.6px"></i>
</div>
<div class="rw" style="left:12.3px;top:930.25px;width:370px;height:15.85px;background:#ffffff">
<span class="lb">Sábado</span>
<span class="nm" style="right:207px">3.020</span>
<span class="nm" style="right:139.2px">3.80<i>1</i></span>
<span class="nm" style="right:71.3px">2.020</span>
<span class="nm" style="right:3.4px">6.<i>1</i>7<i>1</i></span>
<i class="vd b" style="left:98px"></i>
<i class="vd b" style="left:165.9px"></i>
<i class="vd b" style="left:233.7px"></i>
<i class="vd b" style="left:301.6px"></i>
</div>
<div class="rw" style="left:12.3px;top:946.1px;width:370px;height:15.85px;background:#e3e3f1">
<span class="lb">Domingo</span>
<span class="nm" style="right:207px"><i>1</i>.928</span>
<span class="nm" style="right:139.2px">2.676</span>
<span class="nm" style="right:71.3px"><i>1</i>.42<i>1</i></span>
<span class="nm" style="right:3.4px">4.574</span>
<i class="vd b" style="left:98px"></i>
<i class="vd b" style="left:165.9px"></i>
<i class="vd b" style="left:233.7px"></i>
<i class="vd b" style="left:301.6px"></i>
</div>
<div class="rw" style="left:12.3px;top:961.95px;width:370px;height:15.85px;background:#ffffff">
<span class="lb">Total por estación</span>
<span class="nm" style="right:207px">28.277</span>
<span class="nm" style="right:139.2px">35.672</span>
<span class="nm" style="right:71.3px"><i>1</i>7.573</span>
<span class="nm" style="right:3.4px">5<i>1</i>.3<i>1</i>8</span>
<i class="vd b" style="left:98px"></i>
<i class="vd b" style="left:165.9px"></i>
<i class="vd b" style="left:233.7px"></i>
<i class="vd b" style="left:301.6px"></i>
</div>
<div class="rw" style="left:12.3px;top:977.8px;width:370px;height:15.85px;background:#e3e3f1">
<span class="lb">Total línea</span>
<span class="nm" style="right:3.4px"><i>1</i>32.840</span>
<i class="vd b" style="left:98px"></i>
<i class="vd b" style="left:165.9px"></i>
<i class="vd b" style="left:233.7px"></i>
<i class="vd b" style="left:301.6px"></i>
</div>
<div class="tt naranja" style="left:396.2px;top:59.3px;width:184.2px;height:15.6px;background-color:#f39100;color:#fff"><span style="margin-top:-0.1px">Línea Naranja</span></div>
<div class="hd naranja" style="left:394.6px;top:78.3px;width:370px;height:16.3px;background-color:#f39100;color:#fff">
<div class="hc" style="left:90px;width:70px"><span style="line-height:16.3px">Central</span></div>
<div class="hc" style="left:160px;width:70px"><span style="line-height:16.3px">Armentia</span></div>
<div class="hc" style="left:230px;width:70px"><span style="line-height:16.3px">Periférica</span></div>
<div class="hc" style="left:300px;width:70px"><span style="line-height:16.3px">P. Villarroel</span></div>
<i class="vd" style="left:89.5px"></i>
<i class="vd" style="left:159.5px"></i>
<i class="vd" style="left:229.5px"></i>
<i class="vd" style="left:299.5px"></i>
</div>
<div class="rw" style="left:394.6px;top:94.6px;width:370px;height:17.04px;background:#e3e3f1">
<span class="lb" style="top:1.1px">Lunes</span>
<span class="nm" style="right:213.4px;top:1.1px"><i>1</i>0.02<i>1</i></span>
<span class="nm" style="right:143.4px;top:1.1px">2.795</span>
<span class="nm" style="right:73.4px;top:1.1px"><i>1</i>.686</span>
<span class="nm" style="right:3.4px;top:1.1px"><i>1</i><i>1</i>.<i>1</i>96</span>
<i class="vd b" style="left:89.5px"></i>
<i class="vd b" style="left:159.5px"></i>
<i class="vd b" style="left:229.5px"></i>
<i class="vd b" style="left:299.5px"></i>
</div>
<div class="rw" style="left:394.6px;top:111.64px;width:370px;height:15.94px;background:#fdebd3">
<span class="lb">Martes</span>
<span class="nm" style="right:213.4px">9.708</span>
<span class="nm" style="right:143.4px">2.547</span>
<span class="nm" style="right:73.4px"><i>1</i>.6<i>1</i>4</span>
<span class="nm" style="right:3.4px"><i>1</i>0.78<i>1</i></span>
<i class="vd b" style="left:89.5px"></i>
<i class="vd b" style="left:159.5px"></i>
<i class="vd b" style="left:229.5px"></i>
<i class="vd b" style="left:299.5px"></i>
</div>
<div class="rw" style="left:394.6px;top:127.58px;width:370px;height:15.94px;background:#e3e3f1">
<span class="lb">Miércoles</span>
<span class="nm" style="right:213.4px">9.366</span>
<span class="nm" style="right:143.4px">2.485</span>
<span class="nm" style="right:73.4px"><i>1</i>.54<i>1</i></span>
<span class="nm" style="right:3.4px"><i>1</i>0.569</span>
<i class="vd b" style="left:89.5px"></i>
<i class="vd b" style="left:159.5px"></i>
<i class="vd b" style="left:229.5px"></i>
<i class="vd b" style="left:299.5px"></i>
</div>
<div class="rw" style="left:394.6px;top:143.52px;width:370px;height:15.94px;background:#fdebd3">
<span class="lb">Jueves</span>
<span class="nm" style="right:213.4px"><i>1</i><i>1</i>.3<i>1</i>3</span>
<span class="nm" style="right:143.4px">2.683</span>
<span class="nm" style="right:73.4px"><i>1</i>.7<i>1</i>7</span>
<span class="nm" style="right:3.4px"><i>1</i>2.359</span>
<i class="vd b" style="left:89.5px"></i>
<i class="vd b" style="left:159.5px"></i>
<i class="vd b" style="left:229.5px"></i>
<i class="vd b" style="left:299.5px"></i>
</div>
<div class="rw" style="left:394.6px;top:159.46px;width:370px;height:15.94px;background:#e3e3f1">
<span class="lb">Viernes</span>
<span class="nm" style="right:213.4px">9.797</span>
<span class="nm" style="right:143.4px">2.688</span>
<span class="nm" style="right:73.4px"><i>1</i>.534</span>
<span class="nm" style="right:3.4px"><i>1</i><i>1</i>.323</span>
<i class="vd b" style="left:89.5px"></i>
<i class="vd b" style="left:159.5px"></i>
<i class="vd b" style="left:229.5px"></i>
<i class="vd b" style="left:299.5px"></i>
</div>
<div class="rw" style="left:394.6px;top:175.4px;width:370px;height:15.94px;background:#fdebd3">
<span class="lb">Sábado</span>
<span class="nm" style="right:213.4px">9.964</span>
<span class="nm" style="right:143.4px">2.<i>1</i>24</span>
<span class="nm" style="right:73.4px"><i>1</i>.855</span>
<span class="nm" style="right:3.4px"><i>1</i><i>1</i>.75<i>1</i></span>
<i class="vd b" style="left:89.5px"></i>
<i class="vd b" style="left:159.5px"></i>
<i class="vd b" style="left:229.5px"></i>
<i class="vd b" style="left:299.5px"></i>
</div>
<div class="rw" style="left:394.6px;top:191.34px;width:370px;height:15.94px;background:#e3e3f1">
<span class="lb">Domingo</span>
<span class="nm" style="right:213.4px">9.395</span>
<span class="nm" style="right:143.4px"><i>1</i>.797</span>
<span class="nm" style="right:73.4px"><i>1</i>.432</span>
<span class="nm" style="right:3.4px"><i>1</i>0.034</span>
<i class="vd b" style="left:89.5px"></i>
<i class="vd b" style="left:159.5px"></i>
<i class="vd b" style="left:229.5px"></i>
<i class="vd b" style="left:299.5px"></i>
</div>
<div class="rw" style="left:394.6px;top:207.28px;width:370px;height:15.94px;background:#fdebd3">
<span class="lb">Total por estación</span>
<span class="nm" style="right:213.4px">69.564</span>
<span class="nm" style="right:143.4px"><i>1</i>7.<i>1</i><i>1</i>9</span>
<span class="nm" style="right:73.4px"><i>1</i><i>1</i>.379</span>
<span class="nm" style="right:3.4px">78.0<i>1</i>3</span>
<i class="vd b" style="left:89.5px"></i>
<i class="vd b" style="left:159.5px"></i>
<i class="vd b" style="left:229.5px"></i>
<i class="vd b" style="left:299.5px"></i>
</div>
<div class="rw" style="left:394.6px;top:223.22px;width:370px;height:15.94px;background:#e3e3f1">
<span class="lb">Total línea</span>
<span class="nm" style="right:3.4px"><i>1</i>76.075</span>
<i class="vd b" style="left:89.5px"></i>
<i class="vd b" style="left:159.5px"></i>
<i class="vd b" style="left:229.5px"></i>
<i class="vd b" style="left:299.5px"></i>
</div>
<div class="tt celeste" style="left:396.2px;top:243.2px;width:184.2px;height:16.6px;background-color:#bcd9f1;color:#111"><span style="margin-top:-0.2px">Línea Celeste</span></div>
<div class="hd celeste" style="left:394.6px;top:263.2px;width:370px;height:16.3px;background-color:#bcd9f1;color:#111">
<div class="hc" style="left:90px;width:70px"><span style="line-height:16.3px">Holguín</span></div>
<div class="hc" style="left:160px;width:70px"><span style="line-height:16.3px">San Jorge</span></div>
<div class="hc" style="left:230px;width:70px"><span style="line-height:16.3px">Teatro</span></div>
<div class="hc" style="left:300px;width:70px"><span style="line-height:16.3px">El Prado</span></div>
<i class="vd" style="left:89.5px"></i>
<i class="vd" style="left:159.5px"></i>
<i class="vd" style="left:229.5px"></i>
<i class="vd" style="left:299.5px"></i>
</div>
<div class="rw" style="left:394.6px;top:279.5px;width:370px;height:17.04px;background:#e8e3ef">
<span class="lb" style="top:1.1px">Lunes</span>
<span class="nm" style="right:213.4px;top:1.1px">8.786</span>
<span class="nm" style="right:143.4px;top:1.1px">3.627</span>
<span class="nm" style="right:73.4px;top:1.1px"><i>1</i>.233</span>
<span class="nm" style="right:3.4px;top:1.1px">8.407</span>
<i class="vd b" style="left:89.5px"></i>
<i class="vd b" style="left:159.5px"></i>
<i class="vd b" style="left:229.5px"></i>
<i class="vd b" style="left:299.5px"></i>
</div>
<div class="rw" style="left:394.6px;top:296.54px;width:370px;height:15.94px;background:#d4e9f8">
<span class="lb">Martes</span>
<span class="nm" style="right:213.4px">8.598</span>
<span class="nm" style="right:143.4px">3.464</span>
<span class="nm" style="right:73.4px"><i>1</i>.<i>1</i>90</span>
<span class="nm" style="right:3.4px">7.762</span>
<i class="vd b" style="left:89.5px"></i>
<i class="vd b" style="left:159.5px"></i>
<i class="vd b" style="left:229.5px"></i>
<i class="vd b" style="left:299.5px"></i>
</div>
<div class="rw" style="left:394.6px;top:312.48px;width:370px;height:15.94px;background:#e8e3ef">
<span class="lb">Miércoles</span>
<span class="nm" style="right:213.4px">8.89<i>1</i></span>
<span class="nm" style="right:143.4px">3.627</span>
<span class="nm" style="right:73.4px"><i>1</i>.209</span>
<span class="nm" style="right:3.4px">8.098</span>
<i class="vd b" style="left:89.5px"></i>
<i class="vd b" style="left:159.5px"></i>
<i class="vd b" style="left:229.5px"></i>
<i class="vd b" style="left:299.5px"></i>
</div>
<div class="rw" style="left:394.6px;top:328.42px;width:370px;height:15.94px;background:#d4e9f8">
<span class="lb">Jueves</span>
<span class="nm" style="right:213.4px">8.783</span>
<span class="nm" style="right:143.4px">3.37<i>1</i></span>
<span class="nm" style="right:73.4px"><i>1</i>.<i>1</i>52</span>
<span class="nm" style="right:3.4px">7.920</span>
<i class="vd b" style="left:89.5px"></i>
<i class="vd b" style="left:159.5px"></i>
<i class="vd b" style="left:229.5px"></i>
<i class="vd b" style="left:299.5px"></i>
</div>
<div class="rw" style="left:394.6px;top:344.36px;width:370px;height:15.94px;background:#e8e3ef">
<span class="lb">Viernes</span>
<span class="nm" style="right:213.4px">8.957</span>
<span class="nm" style="right:143.4px">3.573</span>
<span class="nm" style="right:73.4px"><i>1</i>.2<i>1</i>7</span>
<span class="nm" style="right:3.4px">8.2<i>1</i>2</span>
<i class="vd b" style="left:89.5px"></i>
<i class="vd b" style="left:159.5px"></i>
<i class="vd b" style="left:229.5px"></i>
<i class="vd b" style="left:299.5px"></i>
</div>
<div class="rw" style="left:394.6px;top:360.3px;width:370px;height:15.94px;background:#d4e9f8">
<span class="lb">Sábado</span>
<span class="nm" style="right:213.4px">5.889</span>
<span class="nm" style="right:143.4px"><i>1</i>.9<i>1</i>5</span>
<span class="nm" style="right:73.4px">676</span>
<span class="nm" style="right:3.4px">3.799</span>
<i class="vd b" style="left:89.5px"></i>
<i class="vd b" style="left:159.5px"></i>
<i class="vd b" style="left:229.5px"></i>
<i class="vd b" style="left:299.5px"></i>
</div>
<div class="rw" style="left:394.6px;top:376.24px;width:370px;height:15.94px;background:#e8e3ef">
<span class="lb">Domingo</span>
<span class="nm" style="right:213.4px">3.820</span>
<span class="nm" style="right:143.4px"><i>1</i>.2<i>1</i>0</span>
<span class="nm" style="right:73.4px">4<i>1</i>2</span>
<span class="nm" style="right:3.4px">2.<i>1</i>72</span>
<i class="vd b" style="left:89.5px"></i>
<i class="vd b" style="left:159.5px"></i>
<i class="vd b" style="left:229.5px"></i>
<i class="vd b" style="left:299.5px"></i>
</div>
<div class="rw" style="left:394.6px;top:392.18px;width:370px;height:15.94px;background:#d4e9f8">
<span class="lb">Total por estación</span>
<span class="nm" style="right:213.4px">53.724</span>
<span class="nm" style="right:143.4px">20.787</span>
<span class="nm" style="right:73.4px">7.089</span>
<span class="nm" style="right:3.4px">46.370</span>
<i class="vd b" style="left:89.5px"></i>
<i class="vd b" style="left:159.5px"></i>
<i class="vd b" style="left:229.5px"></i>
<i class="vd b" style="left:299.5px"></i>
</div>
<div class="rw" style="left:394.6px;top:408.12px;width:370px;height:15.94px;background:#e8e3ef">
<span class="lb">Total línea</span>
<span class="nm" style="right:3.4px"><i>1</i>27.970</span>
<i class="vd b" style="left:89.5px"></i>
<i class="vd b" style="left:159.5px"></i>
<i class="vd b" style="left:229.5px"></i>
<i class="vd b" style="left:299.5px"></i>
</div>
<div class="tt morada" style="left:396.2px;top:427.9px;width:184.2px;height:16.2px;background-color:#883494;color:#fff"><span style="margin-top:0px">Línea Morada</span></div>
<div class="hd morada" style="left:394.6px;top:448.2px;width:370px;height:16.3px;background-color:#883494;color:#fff">
<div class="hc" style="left:127px;width:81px"><span style="line-height:16.3px">Obelisco</span></div>
<div class="hc" style="left:208px;width:81px"><span style="line-height:16.3px">Faro Murillo</span></div>
<div class="hc" style="left:289px;width:81px"><span style="line-height:16.3px">6 de Marzo</span></div>
<i class="vd" style="left:126.5px"></i>
<i class="vd" style="left:207.5px"></i>
<i class="vd" style="left:288.5px"></i>
</div>
<div class="rw" style="left:394.6px;top:464.5px;width:370px;height:17.04px;background:#e3e3f1">
<span class="lb" style="top:1.1px">Lunes</span>
<span class="nm" style="right:165.4px;top:1.1px">33.3<i>1</i>3</span>
<span class="nm" style="right:84.4px;top:1.1px"><i>1</i>4.200</span>
<span class="nm" style="right:3.4px;top:1.1px">23.526</span>
<i class="vd b" style="left:126.5px"></i>
<i class="vd b" style="left:207.5px"></i>
<i class="vd b" style="left:288.5px"></i>
</div>
<div class="rw" style="left:394.6px;top:481.54px;width:370px;height:15.94px;background:#e9d7ec">
<span class="lb">Martes</span>
<span class="nm" style="right:165.4px">3<i>1</i>.235</span>
<span class="nm" style="right:84.4px"><i>1</i>3.446</span>
<span class="nm" style="right:3.4px">22.<i>1</i>89</span>
<i class="vd b" style="left:126.5px"></i>
<i class="vd b" style="left:207.5px"></i>
<i class="vd b" style="left:288.5px"></i>
</div>
<div class="rw" style="left:394.6px;top:497.48px;width:370px;height:15.94px;background:#e3e3f1">
<span class="lb">Miércoles</span>
<span class="nm" style="right:165.4px">3<i>1</i>.429</span>
<span class="nm" style="right:84.4px"><i>1</i>3.44<i>1</i></span>
<span class="nm" style="right:3.4px">22.527</span>
<i class="vd b" style="left:126.5px"></i>
<i class="vd b" style="left:207.5px"></i>
<i class="vd b" style="left:288.5px"></i>
</div>
<div class="rw" style="left:394.6px;top:513.42px;width:370px;height:15.94px;background:#e9d7ec">
<span class="lb">Jueves</span>
<span class="nm" style="right:165.4px">32.<i>1</i>56</span>
<span class="nm" style="right:84.4px"><i>1</i>4.<i>1</i>76</span>
<span class="nm" style="right:3.4px">22.632</span>
<i class="vd b" style="left:126.5px"></i>
<i class="vd b" style="left:207.5px"></i>
<i class="vd b" style="left:288.5px"></i>
</div>
<div class="rw" style="left:394.6px;top:529.36px;width:370px;height:15.94px;background:#e3e3f1">
<span class="lb">Viernes</span>
<span class="nm" style="right:165.4px">3<i>1</i>.596</span>
<span class="nm" style="right:84.4px"><i>1</i>3.968</span>
<span class="nm" style="right:3.4px">22.705</span>
<i class="vd b" style="left:126.5px"></i>
<i class="vd b" style="left:207.5px"></i>
<i class="vd b" style="left:288.5px"></i>
</div>
<div class="rw" style="left:394.6px;top:545.3px;width:370px;height:15.94px;background:#e9d7ec">
<span class="lb">Sábado</span>
<span class="nm" style="right:165.4px">22.<i>1</i>62</span>
<span class="nm" style="right:84.4px">9.939</span>
<span class="nm" style="right:3.4px"><i>1</i>6.<i>1</i>05</span>
<i class="vd b" style="left:126.5px"></i>
<i class="vd b" style="left:207.5px"></i>
<i class="vd b" style="left:288.5px"></i>
</div>
<div class="rw" style="left:394.6px;top:561.24px;width:370px;height:15.94px;background:#e3e3f1">
<span class="lb">Domingo</span>
<span class="nm" style="right:165.4px"><i>1</i>2.625</span>
<span class="nm" style="right:84.4px">6.843</span>
<span class="nm" style="right:3.4px">9.678</span>
<i class="vd b" style="left:126.5px"></i>
<i class="vd b" style="left:207.5px"></i>
<i class="vd b" style="left:288.5px"></i>
</div>
<div class="rw" style="left:394.6px;top:577.18px;width:370px;height:15.94px;background:#e9d7ec">
<span class="lb">Total por estación</span>
<span class="nm" style="right:165.4px"><i>1</i>94.5<i>1</i>6</span>
<span class="nm" style="right:84.4px">86.0<i>1</i>3</span>
<span class="nm" style="right:3.4px"><i>1</i>39.362</span>
<i class="vd b" style="left:126.5px"></i>
<i class="vd b" style="left:207.5px"></i>
<i class="vd b" style="left:288.5px"></i>
</div>
<div class="rw" style="left:394.6px;top:593.12px;width:370px;height:15.94px;background:#e3e3f1">
<span class="lb">Total línea</span>
<span class="nm" style="right:3.4px">4<i>1</i>9.89<i>1</i></span>
<i class="vd b" style="left:126.5px"></i>
<i class="vd b" style="left:207.5px"></i>
<i class="vd b" style="left:288.5px"></i>
</div>
<div class="tt café" style="left:537px;top:612.8px;width:183.4px;height:15.8px;background-color:#935621;color:#fff"><span style="margin-top:0px">Línea Café</span></div>
<div class="hd café" style="left:536.8px;top:632.4px;width:227.1px;height:16.3px;background-color:#935621;color:#fff">
<div class="hc" style="left:103.7px;width:62.5px"><span style="line-height:16.3px">Las Villas</span></div>
<div class="hc" style="left:166.2px;width:60.9px"><span style="line-height:16.3px">Busch</span></div>
<i class="vd" style="left:103.2px"></i>
<i class="vd" style="left:165.7px"></i>
</div>
<div class="rw" style="left:536.8px;top:648.7px;width:227.1px;height:17.87px;background:#e9e8f4">
<span class="lb" style="top:2px">Lunes</span>
<span class="nm" style="right:64.3px;top:2px">2.265</span>
<span class="nm" style="right:3.4px;top:2px">455</span>
<i class="vd b" style="left:103.2px"></i>
<i class="vd b" style="left:165.7px"></i>
</div>
<div class="rw" style="left:536.8px;top:666.57px;width:227.1px;height:15.87px;background:#ebe1d0">
<span class="lb">Martes</span>
<span class="nm" style="right:64.3px">2.296</span>
<span class="nm" style="right:3.4px">379</span>
<i class="vd b" style="left:103.2px"></i>
<i class="vd b" style="left:165.7px"></i>
</div>
<div class="rw" style="left:536.8px;top:682.44px;width:227.1px;height:15.87px;background:#e9e8f4">
<span class="lb">Miércoles</span>
<span class="nm" style="right:64.3px">2.227</span>
<span class="nm" style="right:3.4px">366</span>
<i class="vd b" style="left:103.2px"></i>
<i class="vd b" style="left:165.7px"></i>
</div>
<div class="rw" style="left:536.8px;top:698.31px;width:227.1px;height:15.87px;background:#ebe1d0">
<span class="lb">Jueves</span>
<span class="nm" style="right:64.3px">2.398</span>
<span class="nm" style="right:3.4px">380</span>
<i class="vd b" style="left:103.2px"></i>
<i class="vd b" style="left:165.7px"></i>
</div>
<div class="rw" style="left:536.8px;top:714.18px;width:227.1px;height:15.87px;background:#e9e8f4">
<span class="lb">Viernes</span>
<span class="nm" style="right:64.3px">2.<i>1</i>83</span>
<span class="nm" style="right:3.4px">388</span>
<i class="vd b" style="left:103.2px"></i>
<i class="vd b" style="left:165.7px"></i>
</div>
<div class="rw" style="left:536.8px;top:730.05px;width:227.1px;height:15.87px;background:#ebe1d0">
<span class="lb">Sábado</span>
<span class="nm" style="right:64.3px">2.<i>1</i>27</span>
<span class="nm" style="right:3.4px">36<i>1</i></span>
<i class="vd b" style="left:103.2px"></i>
<i class="vd b" style="left:165.7px"></i>
</div>
<div class="rw" style="left:536.8px;top:745.92px;width:227.1px;height:15.87px;background:#e9e8f4">
<span class="lb">Domingo</span>
<span class="nm" style="right:64.3px"><i>1</i>.785</span>
<span class="nm" style="right:3.4px">259</span>
<i class="vd b" style="left:103.2px"></i>
<i class="vd b" style="left:165.7px"></i>
</div>
<div class="rw" style="left:536.8px;top:761.79px;width:227.1px;height:15.87px;background:#ebe1d0">
<span class="lb">Total por estación</span>
<span class="nm" style="right:64.3px"><i>1</i>5.28<i>1</i></span>
<span class="nm" style="right:3.4px">2588</span>
<i class="vd b" style="left:103.2px"></i>
<i class="vd b" style="left:165.7px"></i>
</div>
<div class="rw" style="left:536.8px;top:777.66px;width:227.1px;height:15.87px;background:#e9e8f4">
<span class="lb">Total línea</span>
<span class="nm" style="right:3.4px"><i>1</i>7.869</span>
<i class="vd b" style="left:103.2px"></i>
<i class="vd b" style="left:165.7px"></i>
</div>
<div class="tt plateada" style="left:536.7px;top:807.8px;width:184.3px;height:16.6px;background-color:#a3a3a3;color:#fff"><span style="margin-top:0px">Línea Plateada</span></div>
<div class="hd plateada" style="left:536.5px;top:829.7px;width:227px;height:29.7px;background-color:#a3a3a3;color:#fff">
<div class="hc two" style="left:96.2px;width:44.7px"><span>16 de<br>Julio</span></div>
<div class="hc two" style="left:140.9px;width:42.8px"><span>Faro<br>Murillo</span></div>
<div class="hc two" style="left:183.7px;width:43.3px"><span>Mirador</span></div>
<i class="vd" style="left:95.7px"></i>
<i class="vd" style="left:140.4px"></i>
<i class="vd" style="left:183.2px"></i>
</div>
<div class="rw" style="left:536.5px;top:859.4px;width:227px;height:16.37px;background:#e3e3f1">
<span class="lb" style="top:1.1px">Lunes</span>
<span class="nm" style="right:89.5px;top:1.1px">8.29<i>1</i></span>
<span class="nm" style="right:46.7px;top:1.1px">5.845</span>
<span class="nm" style="right:3.4px;top:1.1px">4.932</span>
<i class="vd b" style="left:95.7px"></i>
<i class="vd b" style="left:140.4px"></i>
<i class="vd b" style="left:183.2px"></i>
</div>
<div class="rw" style="left:536.5px;top:875.77px;width:227px;height:15.27px;background:#f0f0f7">
<span class="lb">Martes</span>
<span class="nm" style="right:89.5px">7.927</span>
<span class="nm" style="right:46.7px">5.569</span>
<span class="nm" style="right:3.4px">4.763</span>
<i class="vd b" style="left:95.7px"></i>
<i class="vd b" style="left:140.4px"></i>
<i class="vd b" style="left:183.2px"></i>
</div>
<div class="rw" style="left:536.5px;top:891.04px;width:227px;height:15.27px;background:#e3e3f1">
<span class="lb">Miércoles</span>
<span class="nm" style="right:89.5px">7.92<i>1</i></span>
<span class="nm" style="right:46.7px">5.535</span>
<span class="nm" style="right:3.4px">4.863</span>
<i class="vd b" style="left:95.7px"></i>
<i class="vd b" style="left:140.4px"></i>
<i class="vd b" style="left:183.2px"></i>
</div>
<div class="rw" style="left:536.5px;top:906.31px;width:227px;height:15.27px;background:#f0f0f7">
<span class="lb">Jueves</span>
<span class="nm" style="right:89.5px"><i>1</i>2.<i>1</i>65</span>
<span class="nm" style="right:46.7px">8.498</span>
<span class="nm" style="right:3.4px">8.285</span>
<i class="vd b" style="left:95.7px"></i>
<i class="vd b" style="left:140.4px"></i>
<i class="vd b" style="left:183.2px"></i>
</div>
<div class="rw" style="left:536.5px;top:921.58px;width:227px;height:15.27px;background:#e3e3f1">
<span class="lb">Viernes</span>
<span class="nm" style="right:89.5px">8.263</span>
<span class="nm" style="right:46.7px">5.846</span>
<span class="nm" style="right:3.4px">5.<i>1</i>52</span>
<i class="vd b" style="left:95.7px"></i>
<i class="vd b" style="left:140.4px"></i>
<i class="vd b" style="left:183.2px"></i>
</div>
<div class="rw" style="left:536.5px;top:936.85px;width:227px;height:15.27px;background:#f0f0f7">
<span class="lb">Sábado</span>
<span class="nm" style="right:89.5px">7.275</span>
<span class="nm" style="right:46.7px">4.9<i>1</i>7</span>
<span class="nm" style="right:3.4px">5.<i>1</i>42</span>
<i class="vd b" style="left:95.7px"></i>
<i class="vd b" style="left:140.4px"></i>
<i class="vd b" style="left:183.2px"></i>
</div>
<div class="rw" style="left:536.5px;top:952.12px;width:227px;height:15.27px;background:#e3e3f1">
<span class="lb">Domingo</span>
<span class="nm" style="right:89.5px"><i>1</i><i>1</i>.872</span>
<span class="nm" style="right:46.7px">7.072</span>
<span class="nm" style="right:3.4px">9.2<i>1</i>0</span>
<i class="vd b" style="left:95.7px"></i>
<i class="vd b" style="left:140.4px"></i>
<i class="vd b" style="left:183.2px"></i>
</div>
<div class="rw" style="left:536.5px;top:967.39px;width:227px;height:15.27px;background:#f0f0f7">
<span class="lb">Total por estación</span>
<span class="nm" style="right:89.5px">63.7<i>1</i>4</span>
<span class="nm" style="right:46.7px">43.282</span>
<span class="nm" style="right:3.4px">42.347</span>
<i class="vd b" style="left:95.7px"></i>
<i class="vd b" style="left:140.4px"></i>
<i class="vd b" style="left:183.2px"></i>
</div>
<div class="rw" style="left:536.5px;top:982.66px;width:227px;height:15.27px;background:#e3e3f1">
<span class="lb">Total línea</span>
<span class="nm" style="right:3.4px"><i>1</i>49.343</span>
<i class="vd b" style="left:95.7px"></i>
<i class="vd b" style="left:140.4px"></i>
<i class="vd b" style="left:183.2px"></i>
</div>
<div id="src" class="abs">Fuente : Mi Teleférico / Gráfico:<br>Rubén A. / Página Siete</div>
</body></html>
